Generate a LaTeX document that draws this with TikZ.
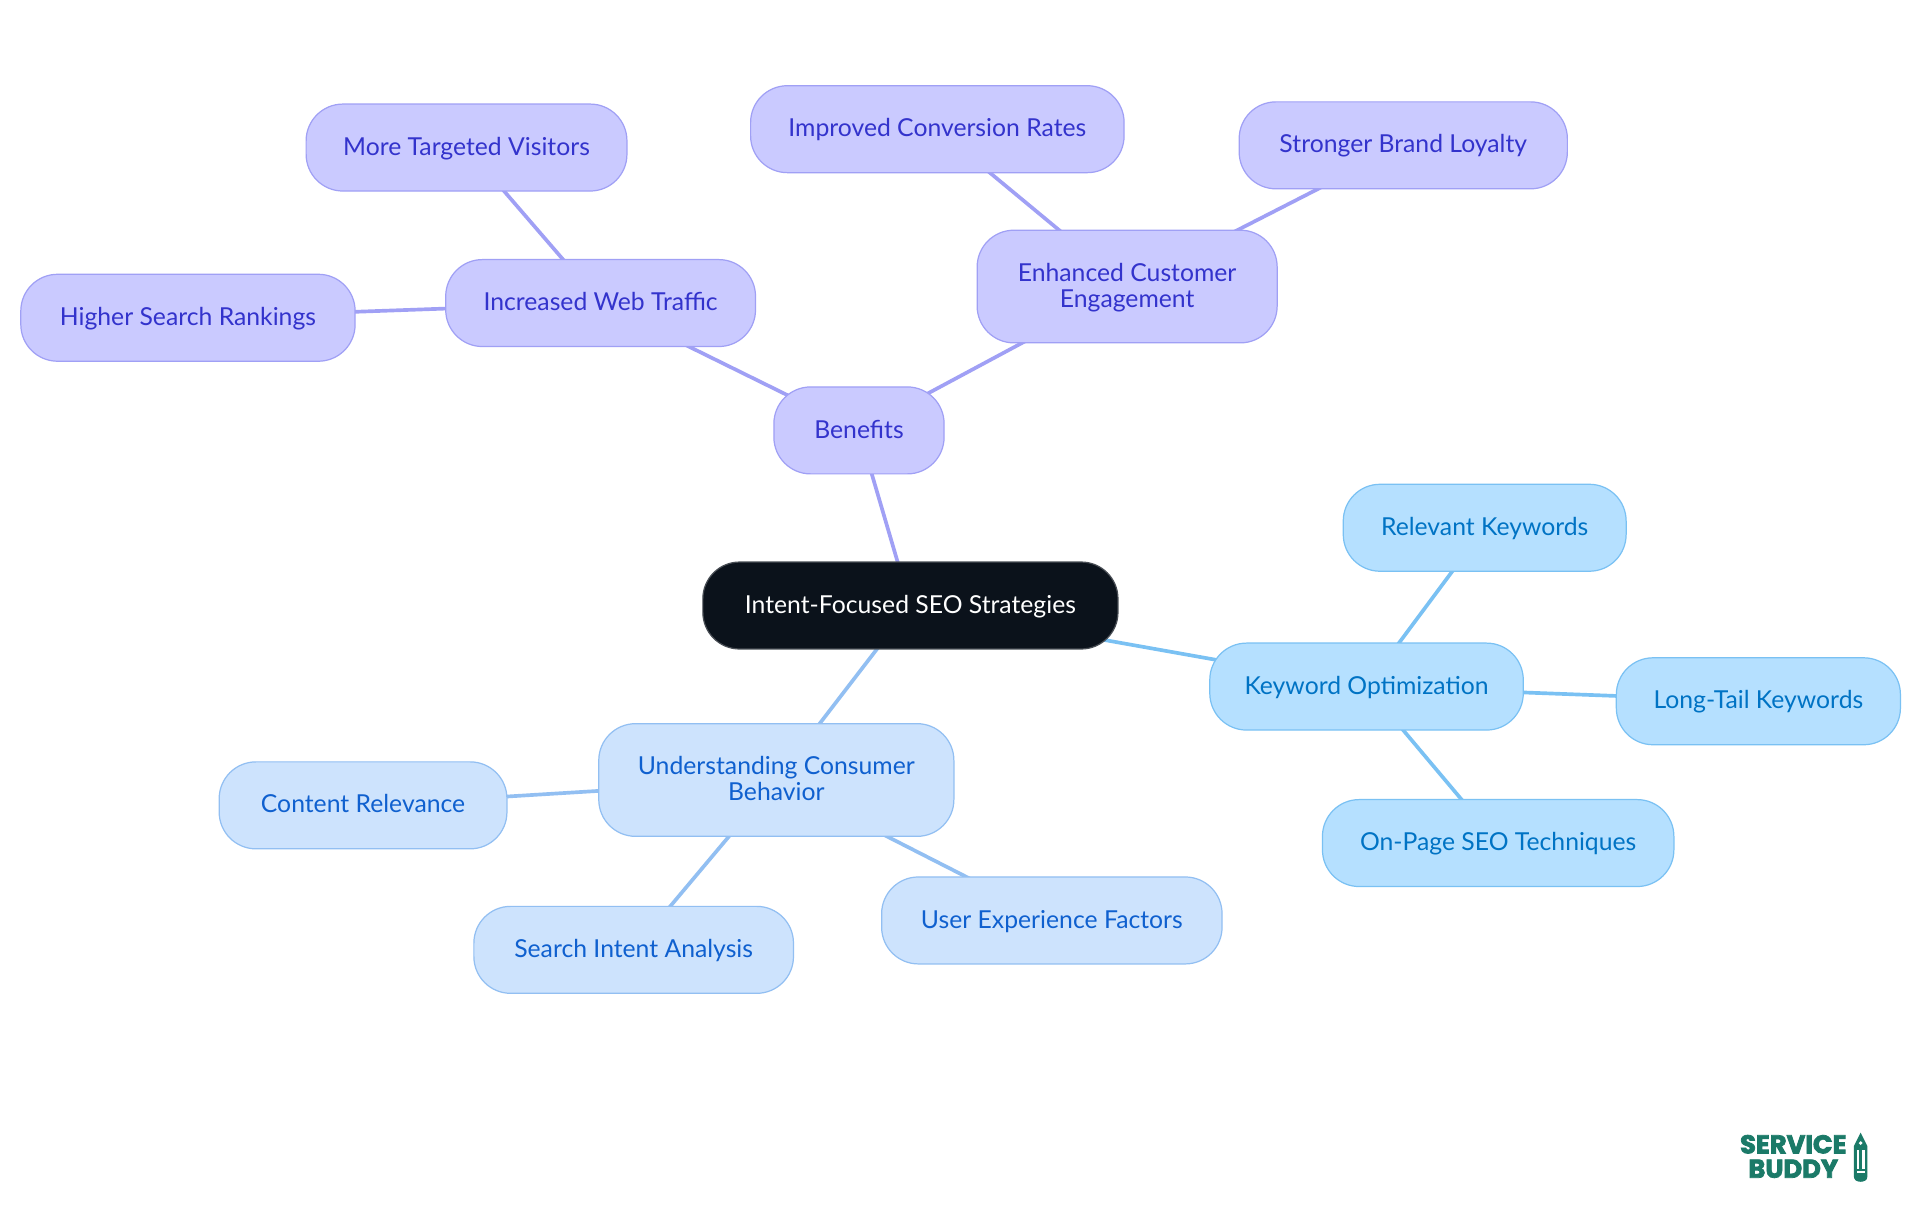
\documentclass[tikz,border=0pt]{standalone}
\usepackage{fontspec}
\setmainfont{Lato}
\newfontfamily\logofont[BoldFeatures={FakeBold=3}]{Poppins}
\usetikzlibrary{backgrounds}
\definecolor{vioF}{HTML}{CACAFF}
\definecolor{vioB}{HTML}{A0A0F5}
\definecolor{vioT}{HTML}{3333CC}
\definecolor{skyF}{HTML}{B5E0FF}
\definecolor{skyB}{HTML}{7AC1F3}
\definecolor{skyT}{HTML}{0073C4}
\definecolor{bluF}{HTML}{CDE3FD}
\definecolor{bluB}{HTML}{92BFF2}
\definecolor{bluT}{HTML}{0F60CF}
\definecolor{rootF}{HTML}{0B121B}
\definecolor{logoG}{HTML}{1B7A68}
\tikzset{
  x=1pt,y=-1pt,
  mm/.style={rectangle,rounded corners=30pt,line width=1pt,align=center,font=\fontsize{20.2}{21}\selectfont,inner sep=0pt,text height=15pt,text depth=0pt},
  twolines/.style={text height=36.4pt},
  root/.style={mm,fill=rootF,draw=rootF!75!white,text=white,minimum width=339pt,minimum height=71pt},
  vio/.style={mm,fill=vioF,draw=vioB,text=vioT},
  sky/.style={mm,fill=skyF,draw=skyB,text=skyT},
  blu/.style={mm,fill=bluF,draw=bluB,text=bluT},
  lnv/.style={line width=3pt,draw=vioB},
  lns/.style={line width=3pt,draw=skyB},
  lnb/.style={line width=3pt,draw=bluB},
  logot/.style={text=logoG,inner sep=0pt,font=\logofont\bfseries\fontsize{21}{21}\selectfont},
}
\newcommand{\lbl}[1]{\raisebox{1.3pt}{#1}}
\begin{document}
\begin{tikzpicture}
\useasboundingbox (0,0) rectangle (1568,992.25);
\node[root] (r) at (743.5,494.5) {\lbl{Intent-Focused SEO Strategies}};
\node[vio,minimum width=139pt,minimum height=71pt] (ben) at (701.5,351.5) {\lbl{Benefits}};
\node[vio,minimum width=253pt,minimum height=71pt] (iwt) at (490.5,247.5) {\lbl{Increased Web Traffic}};
\node[vio,twolines,minimum width=245pt,minimum height=92pt] (ece) at (920.5,234) {\lbl{Enhanced Customer}\\\lbl{Engagement}};
\node[vio,minimum width=262pt,minimum height=71pt] (mtv) at (381,120.5) {\lbl{More Targeted Visitors}};
\node[vio,minimum width=273pt,minimum height=71pt] (hsr) at (153.5,259.5) {\lbl{Higher Search Rankings}};
\node[vio,minimum width=305pt,minimum height=71pt] (icr) at (765.5,105.5) {\lbl{Improved Conversion Rates}};
\node[vio,minimum width=268pt,minimum height=71pt] (sbl) at (1146,118.7) {\lbl{Stronger Brand Loyalty}};
\node[sky,minimum width=256pt,minimum height=71pt] (ko) at (1116,560.7) {\lbl{Keyword Optimization}};
\node[sky,minimum width=231pt,minimum height=71pt] (rk) at (1212.5,431) {\lbl{Relevant Keywords}};
\node[sky,minimum width=232pt,minimum height=71pt] (ltk) at (1436,572.7) {\lbl{Long-Tail Keywords}};
\node[sky,minimum width=287pt,minimum height=71pt] (ops) at (1223.5,688.5) {\lbl{On-Page SEO Techniques}};
\node[blu,twolines,minimum width=290pt,minimum height=92pt] (ucb) at (634,637) {\lbl{Understanding Consumer}\\\lbl{Behavior}};
\node[blu,minimum width=235pt,minimum height=71pt] (cr) at (296.5,657.7) {\lbl{Content Relevance}};
\node[blu,minimum width=261pt,minimum height=71pt] (sia) at (517.5,775.7) {\lbl{Search Intent Analysis}};
\node[blu,minimum width=278pt,minimum height=71pt] (uef) at (859,751.7) {\lbl{User Experience Factors}};
\begin{scope}[on background layer]
\fill[white] (0,0) rectangle (1568,992.25);
\draw[lnv] (r.center)--(ben.center);
\draw[lnv] (ben.center)--(iwt.center);
\draw[lnv] (ben.center)--(ece.center);
\draw[lnv] (iwt.center)--(mtv.center);
\draw[lnv] (iwt.center)--(hsr.center);
\draw[lnv] (ece.center)--(icr.center);
\draw[lnv] (ece.center)--(sbl.center);
\draw[lns] (r.center)--(ko.center);
\draw[lns] (ko.center)--(rk.center);
\draw[lns] (ko.center)--(ltk.center);
\draw[lns] (ko.center)--(ops.center);
\draw[lnb] (r.center)--(ucb.center);
\draw[lnb] (ucb.center)--(cr.center);
\draw[lnb] (ucb.center)--(sia.center);
\draw[lnb] (ucb.center)--(uef.center);
\end{scope}
\node[logot,anchor=center] (l1) at (1464.5,934.5) {SERVICE};
\node[logot,anchor=center] (l2) at (1464.5,954.5) {BUDDY};
% pencil
\begin{scope}[shift={(1513,925)}]
\fill[logoG] (6.5,0) -- (12,11) -- (12,36) .. controls (12,41.5) and (1,41.5) .. (1,36) -- (1,11) -- cycle;
\fill[white] (5.4,14) rectangle (3.2,30);
\fill[white] (7.6,14) rectangle (9.8,30);
\fill[white] (3.2,31.5) rectangle (9.8,33);
\fill[white] (6.5,8.5) circle (1.6pt);
\end{scope}
\end{tikzpicture}
\end{document}
